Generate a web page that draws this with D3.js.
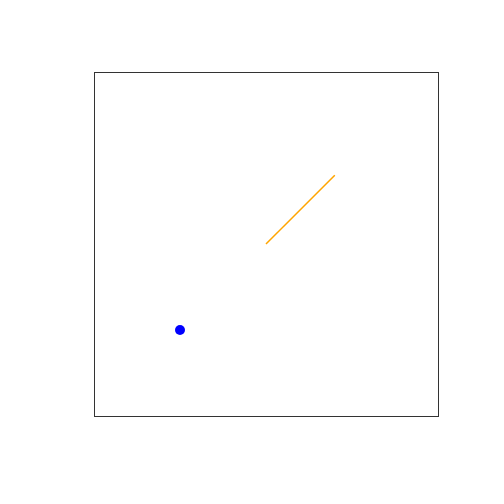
<!DOCTYPE html>
<html><head><meta charset="utf-8">
<script src="https://cdn.jsdelivr.net/npm/d3@7"></script>
<style>html,body{margin:0;padding:0;background:#fff;}</style>
</head><body>
<svg id="chart" width="504" height="504"></svg>
<script>
const xDomain = [0, 1];
const yDomain = [0, 1];
const pointX = [0.25];
const pointY = [0.25];
const lineX = [0.5, 0.7];
const lineY = [0.5, 0.7];

(function(){
const svg = d3.select("#chart");
const mLeft = 94, mRight = 438, mTop = 72, mBottom = 416;
const x = d3.scaleLinear().domain(xDomain).range([mLeft, mRight]);
const y = d3.scaleLinear().domain(yDomain).range([mBottom, mTop]);

svg.append("rect").attr("width",504).attr("height",504).attr("fill","#fff");

svg.append("rect")
  .attr("x", x(xDomain[0]) + 0.5).attr("y", y(yDomain[1]) + 0.5)
  .attr("width", x(xDomain[1]) - x(xDomain[0]))
  .attr("height", y(yDomain[0]) - y(yDomain[1]))
  .attr("fill","none").attr("stroke","#333").attr("stroke-width",1);

const linePts = lineX.map((v,i)=>[v, lineY[i]]);
svg.append("path")
  .attr("d", d3.line().x(d=>x(d[0])).y(d=>y(d[1]))(linePts))
  .attr("fill","none").attr("stroke","orange").attr("stroke-width",1.5);

svg.selectAll("circle.pt").data(pointX.map((v,i)=>[v,pointY[i]]))
  .join("circle").attr("class","pt")
  .attr("cx", d=>x(d[0])).attr("cy", d=>y(d[1])).attr("r", 5)
  .attr("fill","blue");
})();
</script>
</body></html>
